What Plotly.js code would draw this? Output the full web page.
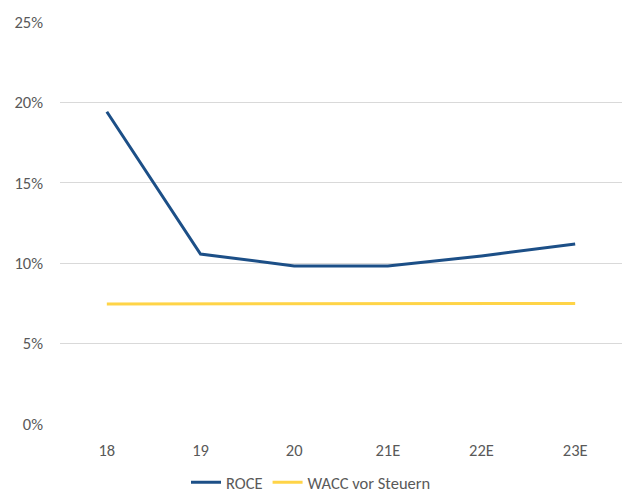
<!DOCTYPE html>
<html>
<head>
<meta charset="utf-8">
<script src="https://cdn.plot.ly/plotly-3.0.1.min.js"></script>
<style>html,body{margin:0;padding:0;background:#fff;}#chart{width:622px;height:495px;}</style>
</head>
<body>
<div id="chart"></div>
<script>
const categories = ["18", "19", "20", "21E", "22E", "23E"];
const roce = [0.1942, 0.1057, 0.0983, 0.0983, 0.1045, 0.1119];
const wacc = [0.0746, 0.0746, 0.0746, 0.0746, 0.0750, 0.0750];
const yTicks = [0, 0.05, 0.10, 0.15, 0.20, 0.25];

const font = {family: "Carlito, Lato, 'Open Sans', sans-serif", size: 16.5, color: "#595959"};

Plotly.newPlot("chart", [
  {x: categories, y: roce, type: "scatter", mode: "lines", name: "ROCE",
   line: {color: "#1c4f87", width: 3}},
  {x: categories, y: wacc, type: "scatter", mode: "lines", name: "WACC vor Steuern",
   line: {color: "#ffd447", width: 3}}
], {
  width: 622, height: 495,
  margin: {l: 60, r: 0, t: 22, b: 71},
  paper_bgcolor: "#fff", plot_bgcolor: "#fff",
  font: font,
  showlegend: true,
  legend: {orientation: "h", x: 0.5, xanchor: "center", xref: "container", yref: "container", y: 0.025, yanchor: "middle", font: font, itemwidth: 30, tracegroupgap: 0},
  xaxis: {type: "category", range: [-0.5, 5.5], showgrid: false, zeroline: false, showline: false, ticks: "", tickfont: font, ticklabelstandoff: 14, automargin: false},
  yaxis: {range: [0, 0.25], tickvals: yTicks, tickformat: ".0%", showgrid: true, gridcolor: "#d9d9d9", gridwidth: 1,
          zeroline: false, showline: false, ticks: "", tickfont: font, ticklabelstandoff: 16, automargin: false}
}, {displayModeBar: false});
</script>
</body>
</html>
